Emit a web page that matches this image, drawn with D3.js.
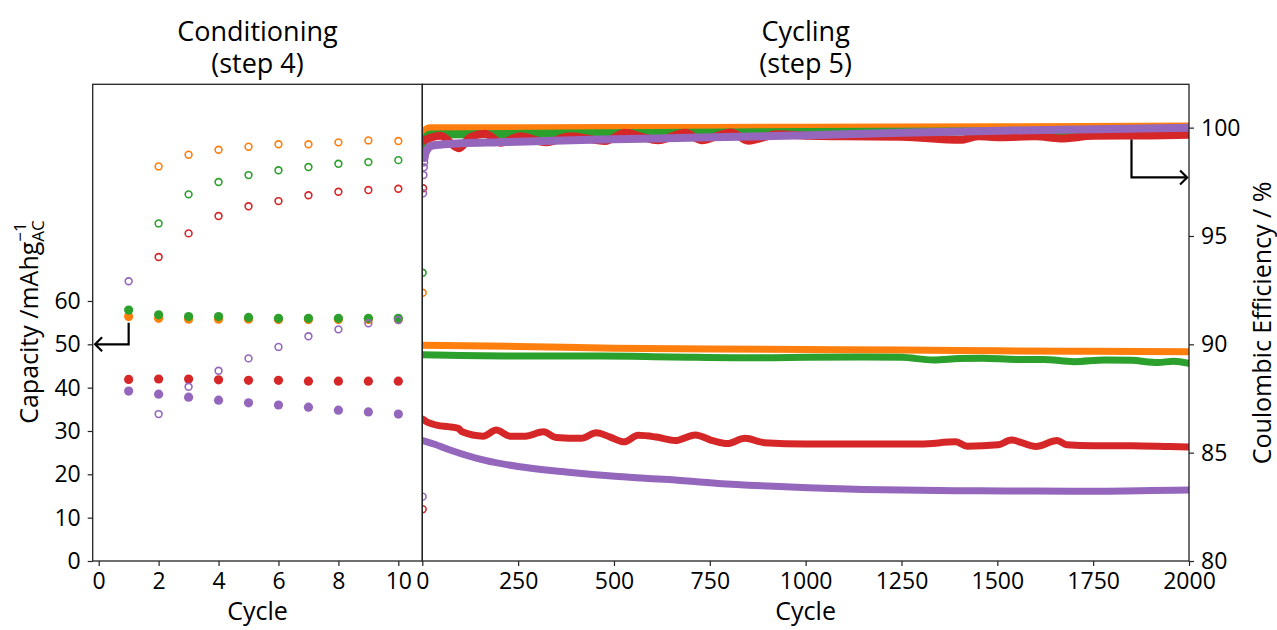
<!DOCTYPE html>
<html>
<head>
<meta charset="utf-8">
<script src="https://cdn.jsdelivr.net/npm/d3@7"></script>
<style>
body { margin: 0; background: #fff; }
text { font-family: "Open Sans", sans-serif; fill: #000; }
</style>
</head>
<body>
<div id="chart"></div>
<script>
// Conditioning (step 4): cycles 1..10
let condCycles = [1, 2, 3, 4, 5, 6, 7, 8, 9, 10];
// capacity (filled markers, left axis)
let condCapOrange = [56.4, 56.0, 55.8, 55.8, 55.8, 55.7, 55.7, 55.7, 55.7, 55.7];
let condCapGreen = [57.9, 56.8, 56.4, 56.4, 56.2, 56.0, 56.0, 56.0, 56.0, 56.0];
let condCapRed = [41.9, 42.0, 42.0, 41.8, 41.7, 41.7, 41.5, 41.5, 41.5, 41.5];
let condCapPurple = [39.2, 38.5, 37.8, 37.1, 36.5, 36.0, 35.5, 34.8, 34.4, 33.9];
// coulombic efficiency (hollow markers, right axis)
let condCEOrange = [null, 98.21, 98.75, 98.98, 99.12, 99.23, 99.23, 99.32, 99.41, 99.38];
let condCEGreen = [null, 95.58, 96.92, 97.49, 97.81, 98.03, 98.18, 98.33, 98.41, 98.5];
let condCERed = [null, 94.03, 95.12, 95.92, 96.37, 96.61, 96.88, 97.04, 97.12, 97.18];
let condCEPurple = [92.91, 86.78, 88.04, 88.78, 89.35, 89.88, 90.37, 90.69, 90.97, 91.12];

// Cycling (step 5): capacity
let cycCapOrangeX = [1, 250, 500, 750, 1000, 1250, 1500, 1750, 2000];
let cycCapOrange = [49.8, 49.5, 49.1, 48.9, 48.8, 48.7, 48.5, 48.4, 48.3];
let cycCapGreenX = [1, 100, 250, 464, 650, 884, 1000, 1150, 1250, 1333, 1400, 1460, 1550, 1620, 1700, 1780, 1850, 1919, 1960, 2000];
let cycCapGreen = [47.6, 47.4, 47.3, 47.3, 47.1, 46.9, 47.0, 47.1, 47.0, 46.4, 46.7, 46.8, 46.5, 46.5, 46.0, 46.4, 46.3, 45.8, 46.1, 45.6];
let cycCapRedX = [1, 10, 40, 68, 94, 104, 159, 193, 229, 269, 316, 349, 415, 454, 490, 526, 563, 610, 660, 712, 760, 795, 842, 892, 1000, 1100, 1250, 1300, 1392, 1421, 1502, 1536, 1601, 1656, 1681, 1750, 1850, 1950, 2000];
let cycCapRed = [32.7, 32.2, 31.3, 31.0, 30.6, 29.8, 28.8, 30.2, 28.8, 28.8, 29.8, 28.5, 28.3, 29.6, 28.6, 27.5, 29.0, 28.6, 27.8, 29.1, 27.7, 27.1, 28.3, 27.3, 27.0, 27.0, 27.0, 27.0, 27.5, 26.5, 26.8, 27.9, 26.4, 27.8, 26.8, 26.6, 26.6, 26.4, 26.3];
let cycCapPurpleX = [1, 30, 76, 164, 250, 381, 511, 641, 772, 902, 1007, 1150, 1300, 1450, 1600, 1750, 1900, 2000];
let cycCapPurple = [27.8, 27.0, 25.5, 23.2, 21.8, 20.5, 19.5, 18.8, 17.9, 17.3, 16.9, 16.5, 16.3, 16.2, 16.15, 16.1, 16.25, 16.4];

// Cycling (step 5): coulombic efficiency
let cycCEOrangeX = [2, 5, 20, 500, 1000, 1500, 2000];
let cycCEOrange = [99.3, 99.8, 99.97, 99.98, 100.0, 100.02, 100.05];
let cycCEGreenX = [2, 5, 20, 300, 600, 1000, 2000];
let cycCEGreen = [98.8, 99.4, 99.68, 99.72, 99.75, 99.8, 99.85];
let cycCERedX = [3, 47, 96, 125, 164, 206, 255, 323, 386, 477, 529, 568, 615, 686, 728, 806, 850, 928, 1007, 1100, 1250, 1403, 1450, 1507, 1600, 1664, 1750, 1900, 2000];
let cycCERed = [99.4, 99.62, 99.05, 99.55, 99.72, 99.3, 99.6, 99.32, 99.6, 99.38, 99.76, 99.6, 99.42, 99.76, 99.42, 99.78, 99.4, 99.7, 99.62, 99.6, 99.58, 99.44, 99.6, 99.56, 99.6, 99.5, 99.62, 99.64, 99.67];
let cycCEPurpleX = [6, 8, 12, 21, 50, 100, 203, 464, 725, 1007, 1250, 1507, 1750, 2000];
let cycCEPurple = [98.6, 98.8, 98.95, 99.15, 99.22, 99.28, 99.33, 99.45, 99.54, 99.65, 99.76, 99.86, 99.93, 100.0];
// first cycles of step 5 that stand apart from the bands
let cycFirstOrangeX = [1], cycFirstOrange = [92.38];
let cycFirstGreenX = [1], cycFirstGreen = [93.3];
let cycFirstRedX = [1, 2], cycFirstRed = [82.39, 97.2];
let cycFirstPurpleX = [1, 2, 3, 4, 5], cycFirstPurple = [82.97, 96.97, 97.81, 98.17, 98.4];

// Tick values
let condTicks = [0, 2, 4, 6, 8, 10];
let cycTicks = [0, 250, 500, 750, 1000, 1250, 1500, 1750, 2000];
let capTicks = [0, 10, 20, 30, 40, 50, 60];
let ceTicks = [80, 85, 90, 95, 100];

let width = 1277;
let height = 630;
let plotTop = 84.3, plotBottom = 561;
let leftX0 = 92.7, splitX = 422.3, rightX1 = 1189;

let xCond = d3.scaleLinear().domain([-0.2, 10.8]).range([leftX0, splitX]);
let xCyc = d3.scaleLinear().domain([0, 2000]).range([splitX, rightX1]);
let yCap = d3.scaleLinear().domain([0, 110]).range([plotBottom, plotTop]);
let yCE = d3.scaleLinear().domain([80, 102]).range([plotBottom, plotTop]);

let series = [
    { color: "#ff7f0e", condCap: condCapOrange, condCE: condCEOrange,
      capX: cycCapOrangeX, cap: cycCapOrange, ceX: cycCEOrangeX, ce: cycCEOrange,
      firstX: cycFirstOrangeX, first: cycFirstOrange },
    { color: "#2ca02c", condCap: condCapGreen, condCE: condCEGreen,
      capX: cycCapGreenX, cap: cycCapGreen, ceX: cycCEGreenX, ce: cycCEGreen,
      firstX: cycFirstGreenX, first: cycFirstGreen },
    { color: "#d62728", condCap: condCapRed, condCE: condCERed,
      capX: cycCapRedX, cap: cycCapRed, ceX: cycCERedX, ce: cycCERed,
      firstX: cycFirstRedX, first: cycFirstRed },
    { color: "#9467bd", condCap: condCapPurple, condCE: condCEPurple,
      capX: cycCapPurpleX, cap: cycCapPurple, ceX: cycCEPurpleX, ce: cycCEPurple,
      firstX: cycFirstPurpleX, first: cycFirstPurple }
];

let svg = d3.select("#chart").append("svg")
    .attr("width", width)
    .attr("height", height);
svg.append("rect").attr("width", width).attr("height", height).attr("fill", "#fff");

let defs = svg.append("defs");
defs.append("clipPath").attr("id", "clipL").append("rect")
    .attr("x", leftX0).attr("y", plotTop)
    .attr("width", splitX - leftX0).attr("height", plotBottom - plotTop);
defs.append("clipPath").attr("id", "clipR").append("rect")
    .attr("x", splitX).attr("y", plotTop)
    .attr("width", rightX1 - splitX).attr("height", plotBottom - plotTop);

// left panel markers
let gL = svg.append("g").attr("clip-path", "url(#clipL)");
series.forEach((s) => {
    gL.selectAll(null)
        .data(condCycles.map((c, i) => [c, s.condCap[i]]))
        .join("circle")
        .attr("cx", (d) => xCond(d[0]))
        .attr("cy", (d) => yCap(d[1]))
        .attr("r", 4.6)
        .attr("fill", s.color);
    gL.selectAll(null)
        .data(condCycles.map((c, i) => [c, s.condCE[i]]).filter((d) => d[1] != null))
        .join("circle")
        .attr("cx", (d) => xCond(d[0]))
        .attr("cy", (d) => yCE(d[1]))
        .attr("r", 3.4)
        .attr("fill", "none")
        .attr("stroke", s.color)
        .attr("stroke-width", 1.6);
});

// right panel bands
let gR = svg.append("g").attr("clip-path", "url(#clipR)");
let capLine = d3.line().x((d) => xCyc(d[0])).y((d) => yCap(d[1])).curve(d3.curveMonotoneX);
let ceLine = d3.line().x((d) => xCyc(d[0])).y((d) => yCE(d[1])).curve(d3.curveMonotoneX);
series.forEach((s) => {
    gR.append("path")
        .attr("d", capLine(s.capX.map((c, i) => [c, s.cap[i]])))
        .attr("fill", "none")
        .attr("stroke", s.color)
        .attr("stroke-width", 7)
        .attr("stroke-linejoin", "round")
        .attr("stroke-linecap", "round");
});
series.forEach((s) => {
    gR.append("path")
        .attr("d", ceLine(s.ceX.map((c, i) => [c, s.ce[i]])))
        .attr("fill", "none")
        .attr("stroke", s.color)
        .attr("stroke-width", 8)
        .attr("stroke-linejoin", "round")
        .attr("stroke-linecap", "round");
    gR.selectAll(null)
        .data(s.firstX.map((c, i) => [c, s.first[i]]))
        .join("circle")
        .attr("cx", (d) => xCyc(d[0]))
        .attr("cy", (d) => yCE(d[1]))
        .attr("r", 3.4)
        .attr("fill", "none")
        .attr("stroke", s.color)
        .attr("stroke-width", 1.6);
});

// frames
[[leftX0, splitX], [splitX, rightX1]].forEach((p) => {
    svg.append("rect")
        .attr("x", p[0]).attr("y", plotTop)
        .attr("width", p[1] - p[0]).attr("height", plotBottom - plotTop)
        .attr("fill", "none")
        .attr("stroke", "#222")
        .attr("stroke-width", 1.3);
});

// axes
function styleAxis(g) {
    g.select(".domain").remove();
    g.selectAll(".tick line").attr("stroke", "#222").attr("stroke-width", 1.2);
    g.selectAll(".tick text").style("font-size", "23px").style("font-family", "'Open Sans', sans-serif").attr("fill", "#000");
}
let fmt = d3.format("d");
svg.append("g").attr("transform", `translate(0,${plotBottom})`)
    .call(d3.axisBottom(xCond).tickValues(condTicks).tickFormat(fmt).tickSize(5).tickPadding(7).tickSizeOuter(0))
    .call(styleAxis);
svg.append("g").attr("transform", `translate(0,${plotBottom})`)
    .call(d3.axisBottom(xCyc).tickValues(cycTicks).tickFormat(fmt).tickSize(5).tickPadding(7).tickSizeOuter(0))
    .call(styleAxis);
svg.append("g").attr("transform", `translate(${leftX0},0)`)
    .call(d3.axisLeft(yCap).tickValues(capTicks).tickFormat(fmt).tickSize(5).tickPadding(7).tickSizeOuter(0))
    .call(styleAxis);
svg.append("g").attr("transform", `translate(${rightX1},0)`)
    .call(d3.axisRight(yCE).tickValues(ceTicks).tickFormat(fmt).tickSize(5).tickPadding(7).tickSizeOuter(0))
    .call(styleAxis);

// axis labels
svg.append("text").attr("x", (leftX0 + splitX) / 2).attr("y", 620)
    .attr("text-anchor", "middle").style("font-size", "25px").text("Cycle");
svg.append("text").attr("x", (splitX + rightX1) / 2).attr("y", 620)
    .attr("text-anchor", "middle").style("font-size", "25px").text("Cycle");

let capLabel = svg.append("text")
    .attr("transform", "translate(38,322) rotate(-90)")
    .attr("text-anchor", "middle")
    .style("font-size", "25px");
capLabel.append("tspan").text("Capacity /mAhg");
let sub = capLabel.append("tspan").attr("dy", 6).style("font-size", "17px").text("AC");
let subW = sub.node().getComputedTextLength();
capLabel.append("tspan").attr("dx", -subW).attr("dy", -18).style("font-size", "17px").text("\u22121");

svg.append("text")
    .attr("transform", "translate(1271,323) rotate(-90)")
    .attr("text-anchor", "middle")
    .style("font-size", "25px")
    .text("Coulombic Efficiency / %");

// panel titles, two lines each
[["Conditioning", "(step 4)", (leftX0 + splitX) / 2], ["Cycling", "(step 5)", (splitX + rightX1) / 2]].forEach((t) => {
    let title = svg.append("text").attr("text-anchor", "middle").style("font-size", "27px");
    title.append("tspan").attr("x", t[2]).attr("y", 41).text(t[0]);
    title.append("tspan").attr("x", t[2]).attr("y", 73).text(t[1]);
});

// arrows pointing to their axes
function arrow(points, head) {
    svg.append("path")
        .attr("d", d3.line()(points))
        .attr("fill", "none").attr("stroke", "#000").attr("stroke-width", 2.2);
    svg.append("path")
        .attr("d", d3.line()(head))
        .attr("fill", "none").attr("stroke", "#000").attr("stroke-width", 2.2)
        .attr("stroke-linejoin", "miter");
}
let la = [[xCond(1), yCap(55)], [xCond(1), yCap(50)], [xCond(-0.12), yCap(50)]];
arrow(la, [[la[2][0] + 7, la[2][1] - 7], la[2], [la[2][0] + 7, la[2][1] + 7]]);
let ra = [[xCyc(1850), yCE(99.45)], [xCyc(1850), yCE(97.7)], [xCyc(1995), yCE(97.7)]];
arrow(ra, [[ra[2][0] - 7, ra[2][1] - 7], ra[2], [ra[2][0] - 7, ra[2][1] + 7]]);
</script>
</body>
</html>
